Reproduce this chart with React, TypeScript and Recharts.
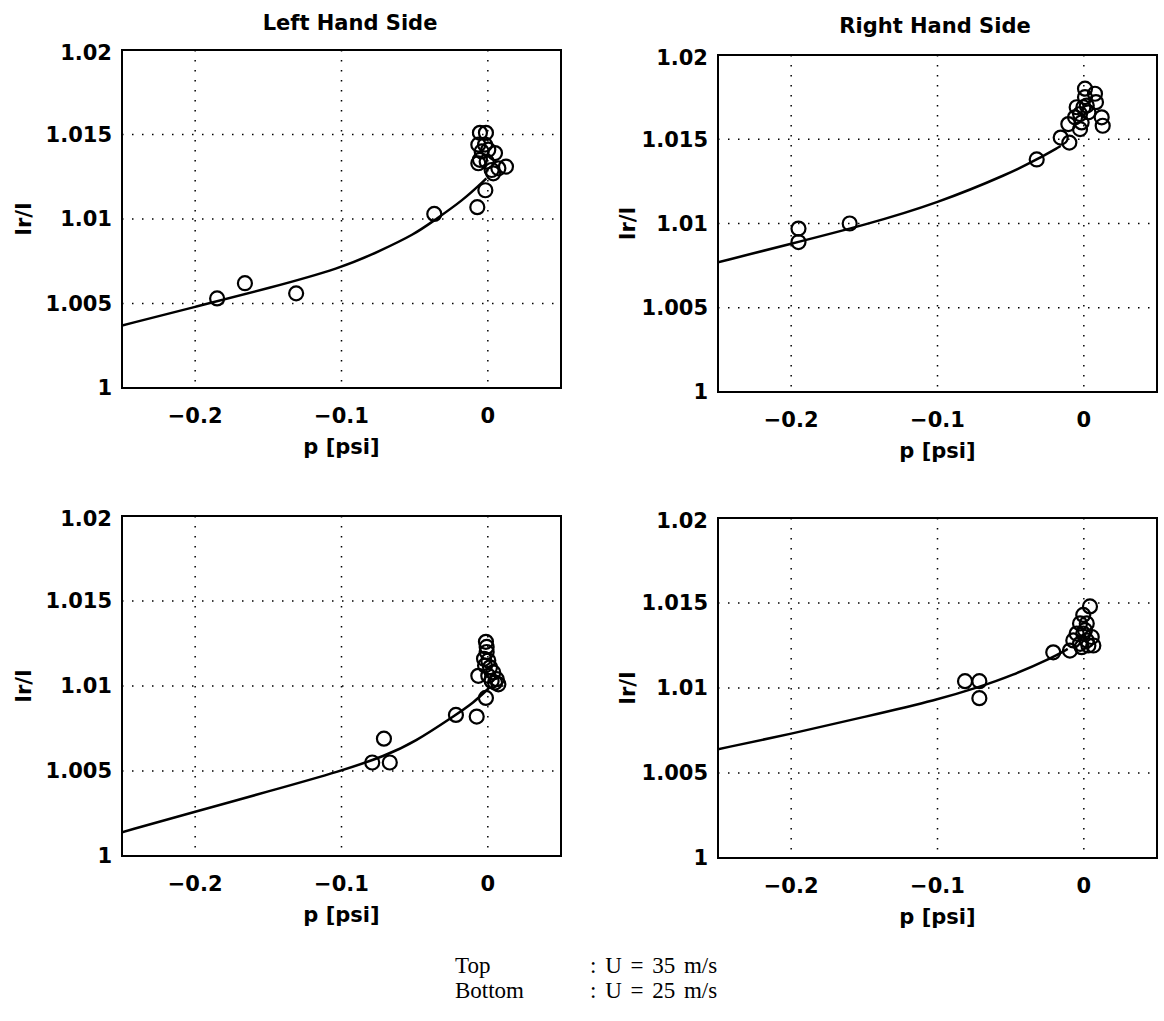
import React from "react";
import {
  ComposedChart,
  Scatter,
  Line,
  XAxis,
  YAxis,
  CartesianGrid,
  ReferenceArea,
} from "recharts";

// measured pairs [p, Ir/I]
const topLeftPoints: [number, number][] = [
  [-0.185, 1.0053], [-0.166, 1.0062], [-0.131, 1.0056], [-0.0366, 1.0103],
  [-0.0072, 1.0107], [-0.0017, 1.0117], [0.0037, 1.0127], [0.0124, 1.0131],
  [0.0049, 1.0139], [-0.0054, 1.0151], [-0.0013, 1.0151], [-0.0065, 1.0144],
  [-0.0019, 1.0144], [-0.0054, 1.0135], [-0.0008, 1.0134], [0.0026, 1.0129],
  [0.0072, 1.013], [-0.0042, 1.014], [-0.0065, 1.0133], [0.0003, 1.0141],
];
const topLeftCurve: [number, number][] = [
  [-0.25, 1.0037], [-0.2, 1.0048], [-0.15, 1.0059], [-0.1, 1.0071],
  [-0.074, 1.0081], [-0.05, 1.0091], [-0.037, 1.0099], [-0.017, 1.0111],
  [-0.001, 1.0124],
];

const topRightPoints: [number, number][] = [
  [-0.195, 1.0097], [-0.195, 1.0089], [-0.16, 1.01], [-0.0322, 1.0138],
  [-0.0158, 1.0151], [-0.0099, 1.0148], [-0.0106, 1.0159], [-0.0026, 1.0156],
  [0.0008, 1.018], [0.0008, 1.0175], [0.0076, 1.0177], [0.0083, 1.0172],
  [0.0122, 1.0163], [0.0129, 1.0158], [-0.0049, 1.0169], [-0.0026, 1.0165],
  [-0.006, 1.0163], [-0.0003, 1.0169], [0.002, 1.017], [-0.0015, 1.016],
  [0.0031, 1.0166],
];
const topRightCurve: [number, number][] = [
  [-0.25, 1.0077], [-0.2, 1.0088], [-0.15, 1.0099], [-0.1, 1.0112],
  [-0.05, 1.013], [-0.032, 1.0138], [-0.0158, 1.0146],
];

const bottomLeftPoints: [number, number][] = [
  [-0.079, 1.0055], [-0.071, 1.0069], [-0.067, 1.0055], [-0.0218, 1.0083],
  [-0.0076, 1.0082], [-0.0013, 1.0093], [-0.0065, 1.0106], [0.0049, 1.0102],
  [-0.0013, 1.0126], [-0.0008, 1.012], [0.0003, 1.0115], [-0.0019, 1.0112],
  [0.0015, 1.0111], [0.0037, 1.0108], [-0.0026, 1.0116], [0.0003, 1.0106],
  [0.0061, 1.0104], [0.0072, 1.0101], [0.0026, 1.0103], [-0.0008, 1.0123],
];
const bottomLeftCurve: [number, number][] = [
  [-0.25, 1.0014], [-0.2, 1.0026], [-0.15, 1.0038], [-0.1, 1.005],
  [-0.07, 1.0059], [-0.05, 1.0067], [-0.022, 1.0083], [-0.01, 1.009],
  [0.001, 1.0099],
];

const bottomRightPoints: [number, number][] = [
  [-0.0812, 1.0104], [-0.0714, 1.0104], [-0.0714, 1.0094], [-0.0209, 1.0121],
  [-0.0095, 1.0122], [0.0042, 1.0148], [-0.0004, 1.0143], [-0.0026, 1.0138],
  [0.002, 1.0138], [-0.0049, 1.0132], [-0.0004, 1.0132], [0.0054, 1.013],
  [-0.0072, 1.0128], [-0.0026, 1.0126], [0.0031, 1.0125], [0.0065, 1.0125],
  [0.0008, 1.0134], [-0.0015, 1.0124], [0.002, 1.0128],
];
const bottomRightCurve: [number, number][] = [
  [-0.25, 1.0064], [-0.2, 1.0073], [-0.15, 1.0083], [-0.1, 1.0093],
  [-0.07, 1.0101], [-0.05, 1.0107], [-0.021, 1.0118], [-0.011, 1.0123],
];

const xTicks = [-0.2, -0.1, 0];
const yTicks = [1, 1.005, 1.01, 1.015, 1.02];

const FONT = "'DejaVu Sans', Arial, sans-serif";
const textStyle = { fontSize: 21, fontWeight: 700, fill: "#000", fontFamily: FONT };

const toRows = (arr: [number, number][]) => arr.map(([p, v]) => ({ p, v }));

const Ring = (props: any) => (
  <circle cx={props.cx} cy={props.cy} r={7} fill="none" stroke="#000" strokeWidth={2.2} />
);

const fmtX = (v: number) => (v < 0 ? "\u2212" + Math.abs(v) : String(v));

function Panel({
  left,
  top,
  plotH,
  labelShift = 0,
  points,
  curve,
}: {
  left: number;
  top: number;
  plotH: number;
  labelShift?: number;
  points: [number, number][];
  curve: [number, number][];
}) {
  return (
    <div style={{ position: "absolute", left: left - 122, top: top - 10 }}>
      <ComposedChart
        width={580}
        height={10 + plotH + 82}
        margin={{ top: 10, right: 19, bottom: 16, left: 22 }}
      >
        <CartesianGrid stroke="#000" strokeWidth={1.5} strokeDasharray="1.5 8.5" />
        <XAxis
          type="number"
          dataKey="p"
          domain={[-0.25, 0.05]}
          ticks={xTicks}
          tickFormatter={fmtX}
          axisLine={false}
          tickLine={false}
          tickMargin={14}
          height={66}
          tick={textStyle}
          allowDataOverflow
          label={{ value: "p [psi]", position: "insideBottom", offset: 0, style: textStyle }}
        />
        <YAxis
          type="number"
          dataKey="v"
          domain={[1, 1.02]}
          ticks={yTicks}
          tickFormatter={(v: number) => String(v)}
          axisLine={false}
          tickLine={false}
          tickMargin={4}
          width={100}
          tick={textStyle}
          allowDataOverflow
          label={{
            content: (lp: any) => {
              const vb = lp.viewBox || {};
              const cx = vb.x + 2 + labelShift;
              const cy = vb.y + vb.height / 2;
              return (
                <text
                  x={cx}
                  y={cy}
                  transform={`rotate(-90, ${cx}, ${cy})`}
                  textAnchor="middle"
                  dominantBaseline="central"
                  style={textStyle}
                >
                  Ir/I
                </text>
              );
            },
          }}
        />
        <Line
          data={toRows(curve)}
          dataKey="v"
          type="basis"
          stroke="#000"
          strokeWidth={2.5}
          dot={false}
          activeDot={false}
          isAnimationActive={false}
        />
        <Scatter data={toRows(points)} shape={Ring} isAnimationActive={false} />
        <ReferenceArea
          x1={-0.25}
          x2={0.05}
          y1={1}
          y2={1.02}
          fill="none"
          fillOpacity={0}
          stroke="#000"
          strokeWidth={2}
        />
      </ComposedChart>
    </div>
  );
}

export default function App() {
  const titleStyle: React.CSSProperties = {
    position: "absolute",
    width: 240,
    textAlign: "center",
    fontSize: 21,
    fontWeight: 700,
    lineHeight: "26px",
  };
  return (
    <div
      style={{
        position: "absolute",
        left: 0,
        top: 0,
        width: 1164,
        height: 1021,
        background: "#fff",
        overflow: "hidden",
        fontFamily: FONT,
      }}
    >
      <div style={{ ...titleStyle, left: 230, top: 10 }}>Left Hand Side</div>
      <div style={{ ...titleStyle, left: 815, top: 13 }}>Right Hand Side</div>
      <Panel left={122} top={50} plotH={338} points={topLeftPoints} curve={topLeftCurve} />
      <Panel left={718} top={55} plotH={337} labelShift={8} points={topRightPoints} curve={topRightCurve} />
      <Panel left={122} top={516} plotH={340} points={bottomLeftPoints} curve={bottomLeftCurve} />
      <Panel left={718} top={518} plotH={340} labelShift={8} points={bottomRightPoints} curve={bottomRightCurve} />
      <div
        style={{
          position: "absolute",
          left: 455,
          top: 953,
          fontFamily: "'Liberation Serif', 'Times New Roman', serif",
          fontSize: 23,
          lineHeight: "25px",
          wordSpacing: 3,
        }}
      >
        <div style={{ display: "flex" }}>
          <span style={{ width: 135 }}>Top</span>
          <span>: U = 35 m/s</span>
        </div>
        <div style={{ display: "flex" }}>
          <span style={{ width: 135 }}>Bottom</span>
          <span>: U = 25 m/s</span>
        </div>
      </div>
    </div>
  );
}
